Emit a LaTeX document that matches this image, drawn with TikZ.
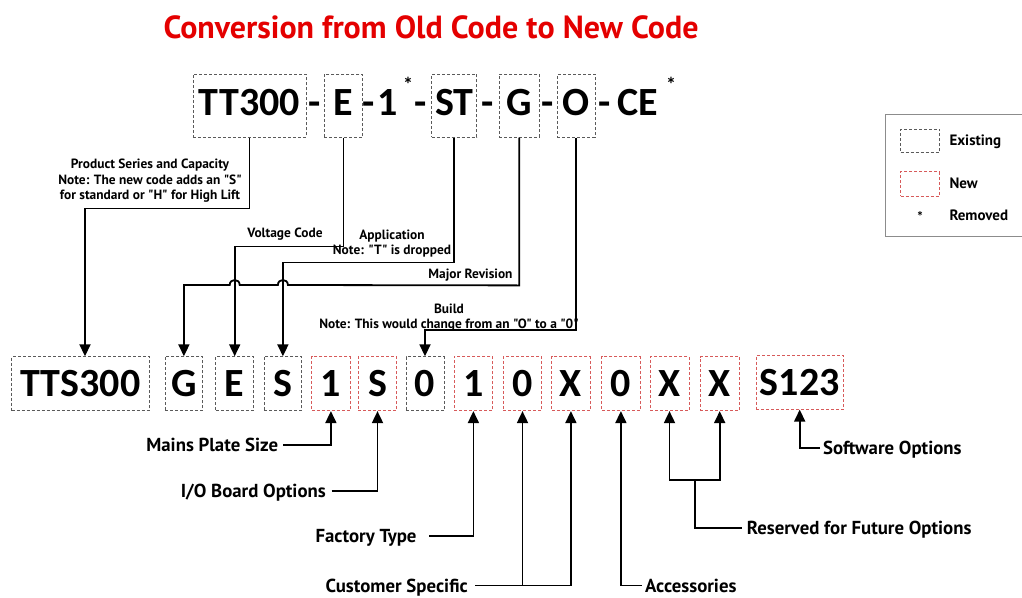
\documentclass[tikz,border=0pt]{standalone}
\usepackage{fontspec}
\setmainfont{PT Sans}[Ligatures=TeXOff]
\newfontfamily\codefont{Carlito}
\usetikzlibrary{arrows.meta,calc}
\definecolor{titlered}{RGB}{228,0,0}
\definecolor{oldgray}{RGB}{90,90,90}
\definecolor{newred}{RGB}{215,90,90}
\definecolor{leggray}{RGB}{140,140,140}
\begin{document}
\begin{tikzpicture}[x=1pt,y=-1pt,
  oldbox/.style={draw=oldgray, dash pattern=on 3pt off 2pt, line width=0.8pt, inner sep=0pt},
  newbox/.style={draw=newred, dash pattern=on 3pt off 2pt, line width=0.8pt, inner sep=0pt},
  code/.style={font=\codefont\bfseries\fontsize{40}{40}\selectfont, text height=26pt, text depth=0pt, minimum height=54pt},
  topcode/.style={code, text depth=7.6pt, minimum height=63pt},
  plain/.style={font=\codefont\bfseries\fontsize{40}{40}\selectfont, anchor=base, inner sep=0pt},
  star/.style={font=\codefont\bfseries\fontsize{20}{20}\selectfont, inner sep=0pt},
  conn/.style={line width=1.8pt, -{Triangle[length=12pt,width=11pt]}},
  line/.style={line width=1.8pt},
  lbl/.style={font=\bfseries\fontsize{13.4}{15.5}\selectfont, align=center, inner sep=0pt},
  blab/.style={font=\bfseries\fontsize{18.8}{18.8}\selectfont, text height=13.3pt, text depth=0pt, inner sep=0pt},
  legtxt/.style={font=\bfseries\fontsize{15}{15}\selectfont, text height=10.5pt, text depth=0pt, inner sep=0pt, anchor=west}
]
\useasboundingbox (0,0) rectangle (1022,597);

% title
\node[font=\bfseries\fontsize{32}{32}\selectfont, text=titlered, inner sep=0pt] (title) at (431,27) {Conversion from Old Code to New Code};

% old code row
\node[oldbox, topcode, minimum width=113pt] (oTT) at (249.4,105.8) {TT300};
\node[plain] (d1) at (315,115) {-};
\node[oldbox, topcode, minimum width=38.7pt] (oE) at (343.4,105.8) {E};
\node[plain] (d2) at (369,115) {-};
\node[plain] (one) at (388,115) {1};
\node[star] (ast1) at (408,84) {*};
\node[plain] (d3) at (421,115) {-};
\node[oldbox, topcode, minimum width=45pt] (oST) at (454.2,105.8) {ST};
\node[plain] (d4) at (488,115) {-};
\node[oldbox, topcode, minimum width=40pt] (oG) at (519.3,105.8) {G};
\node[plain] (d5) at (548,115) {-};
\node[oldbox, topcode, minimum width=37.7pt] (oO) at (576.2,105.8) {O};
\node[plain] (d6) at (605,115) {-};
\node[plain] (ce) at (638,115) {CE};
\node[star] (ast2) at (671,84) {*};

% new code row
\node[oldbox, code, minimum width=137.6pt] (nTTS) at (80.5,383.7) {TTS300};
\node[oldbox, code, minimum width=37.7pt] (nG) at (183.9,383.7) {G};
\node[oldbox, code, minimum width=37.7pt] (nE) at (234.7,383.7) {E};
\node[oldbox, code, minimum width=37.7pt] (nS) at (282.9,383.7) {S};
\node[newbox, code, minimum width=38.3pt] (n1a) at (330.9,383.7) {1};
\node[newbox, code, minimum width=38.3pt] (nSb) at (377.5,383.7) {S};
\node[oldbox, code, minimum width=38pt] (n0a) at (425,383.7) {0};
\node[newbox, code, minimum width=38.7pt] (n1b) at (473.4,383.7) {1};
\node[newbox, code, minimum width=38.4pt] (n0b) at (522.5,383.7) {0};
\node[newbox, code, minimum width=38.3pt] (nXa) at (570.9,383.7) {X};
\node[newbox, code, minimum width=38.3pt] (n0c) at (620.9,383.7) {0};
\node[newbox, code, minimum width=39pt] (nXb) at (669.5,383.7) {X};
\node[newbox, code, minimum width=39.3pt] (nXc) at (719.7,383.7) {X};
\node[newbox, code, minimum width=87.3pt] (nS123) at (799.7,382.2) {S123};

% labels for old -> new
\node[lbl] (lps) at (150,181) {Product Series and Capacity\\Note: The new code adds an "S"\\for standard or "H" for High Lift};
\node[lbl] (lvc) at (285,234) {Voltage Code};
\node[lbl] (lap) at (392,243.5) {Application\\Note: "T" is dropped};
\node[lbl] (lmr) at (470.5,275) {Major Revision};
\node[lbl] (lbd) at (449,317.5) {Build\\Note: This would change from an "O" to a "0"};

% connectors old -> new
\draw[conn] (oTT.south) -- ++(0,70.7) -| ([xshift=4.5pt]nTTS.north);
\draw[conn] (oE.south) -- ++(0,108.7) -| (nE.north);
\draw[conn] (oST.south) -- ++(0,124.7) -| (nS.north);
\draw[conn] (oG.south) -- ++(0,147.7) -- (287.9,285)
  .. controls (287.9,278.3) and (277.9,278.3) .. (277.9,285) -- (239.7,285)
  .. controls (239.7,278.3) and (229.7,278.3) .. (229.7,285) -| (nG.north);
\draw[conn] (oO.south) -- ++(0,192.2) -| (n0a.north);

% bottom labels
\node[blab, anchor=east] (lmps) at (278.3,445) {Mains Plate Size};
\node[blab, anchor=east] (liob) at (326,490.7) {I/O Board Options};
\node[blab, anchor=east] (lft) at (416.7,536) {Factory Type};
\node[blab, anchor=east] (lcs) at (468,585.5) {Customer Specific};
\node[blab, anchor=west] (lacc) at (645,585.5) {Accessories};
\node[blab, anchor=west] (lrfo) at (746.7,528) {Reserved for Future Options};
\node[blab, anchor=west] (lsw) at (823,448) {Software Options};

\coordinate (rj) at (695,480);

\draw[conn] ([xshift=5pt]lmps.east) -| (n1a.south);
\draw[conn] ([xshift=5.7pt]liob.east) -| (nSb.south);
\draw[conn] ([xshift=12.6pt]lft.east) -| (n1b.south);
\draw[conn] ([xshift=7pt]lcs.east) -| (nXa.south);
\draw[conn] (n0b.south |- lcs.east) -- (n0b.south);
\draw[conn] ([xshift=-3.3pt]lacc.west) -| (n0c.south);
\draw[line] ([xshift=-5pt]lrfo.west) -| (rj);
\draw[conn] (rj) -| (nXb.south);
\draw[conn] (rj) -| (nXc.south);
\draw[conn] ([xshift=-3pt]lsw.west) -| (nS123.south);

% legend
\draw[leggray, line width=0.8pt] (885,114) rectangle (1030,236.7);
\node[oldbox, minimum width=38.6pt, minimum height=23.7pt] (kold) at (920,140.8) {};
\node[newbox, minimum width=38.6pt, minimum height=24.3pt] (knew) at (920,183.8) {};
\node[star, font=\codefont\bfseries\fontsize{14}{14}\selectfont] (kstar) at (920,216) {*};
\node[legtxt] (tex) at (949.3,140.7) {Existing};
\node[legtxt] (tnew) at (949.3,183.3) {New};
\node[legtxt] (trem) at (949.3,215) {Removed};
\end{tikzpicture}
\end{document}
